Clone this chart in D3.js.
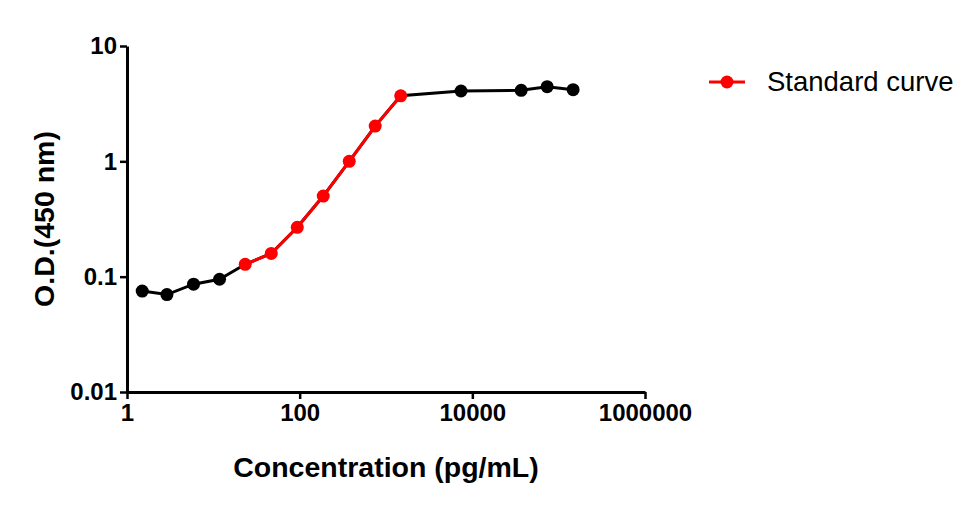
<!DOCTYPE html>
<html>
<head>
<meta charset="utf-8">
<script src="https://cdn.jsdelivr.net/npm/d3@7"></script>
<style>
  body { margin: 0; background: #fff; }
  text { font-family: "Liberation Sans", Arial, sans-serif; }
</style>
</head>
<body>
<div id="chart"></div>
<script>
// values
var concentrations = [1.5, 2.9, 5.9, 11.8, 23.4, 46.9, 93.8, 187.5, 375, 750, 1480, 7400, 36800, 73600, 147000];
var odValues = [0.075, 0.070, 0.086, 0.095, 0.128, 0.159, 0.268, 0.50, 1.0, 2.02, 3.7, 4.07, 4.13, 4.44, 4.18];
var redStart = 4, redEnd = 10; // indexes of the standard curve part
var xTickValues = [1, 100, 10000, 1000000];
var xTickLabels = ["1", "100", "10000", "1000000"];
var yTickValues = [0.01, 0.1, 1, 10];
var yTickLabels = ["0.01", "0.1", "1", "10"];
var legendLabel = "Standard curve";

var width = 980, height = 507;
var margin = { top: 46, right: 335, bottom: 115, left: 127 };

var data = concentrations.map(function(c, i) { return { x: c, y: odValues[i], i: i }; });

var svg = d3.select("#chart")
  .append("svg")
  .attr("width", width)
  .attr("height", height);

var x = d3.scaleLog()
  .domain([1, 1000000])
  .range([margin.left, width - margin.right]);

var y = d3.scaleLog()
  .domain([0.01, 10])
  .range([height - margin.bottom, margin.top]);

// minor ticks
var xMinor = [];
[10, 1000, 100000].forEach(function(b) {
  for (var m = 1; m < 10; m++) xMinor.push(b * m);
});
var yMinor = [];
[0.01, 0.1, 1].forEach(function(b) {
  for (var m = 2; m < 10; m++) yMinor.push(b * m);
});

var gx = svg.append("g")
  .attr("transform", "translate(0," + (height - margin.bottom) + ")");
gx.call(d3.axisBottom(x).tickValues(xMinor).tickSize(3).tickFormat("").tickSizeOuter(0));
gx.call(d3.axisBottom(x).tickValues(xTickValues).tickSize(7).tickSizeOuter(0)
  .tickFormat(function(d, i) { return xTickLabels[i]; }));

var gy = svg.append("g")
  .attr("transform", "translate(" + margin.left + ",0)");
gy.call(d3.axisLeft(y).tickValues(yMinor).tickSize(3).tickFormat("").tickSizeOuter(0));
gy.call(d3.axisLeft(y).tickValues(yTickValues).tickSize(7).tickSizeOuter(0)
  .tickFormat(function(d, i) { return yTickLabels[i]; }));

svg.selectAll(".domain").attr("stroke", "#000").attr("stroke-width", 3);
svg.selectAll(".tick line").attr("stroke", "#000").attr("stroke-width", 2.5);
gx.selectAll(".tick text")
  .attr("y", 12)
  .style("font-size", "24px").style("font-weight", "bold").attr("fill", "#000");
gy.selectAll(".tick text")
  .attr("x", -10)
  .style("font-size", "24px").style("font-weight", "bold").attr("fill", "#000");

var line = d3.line()
  .x(function(d) { return x(d.x); })
  .y(function(d) { return y(d.y); });

svg.append("path")
  .datum(data)
  .attr("fill", "none")
  .attr("stroke", "#000")
  .attr("stroke-width", 3)
  .attr("d", line);

svg.append("path")
  .datum(data.slice(redStart, redEnd + 1))
  .attr("fill", "none")
  .attr("stroke", "#f00")
  .attr("stroke-width", 3)
  .attr("d", line);

svg.append("g")
  .selectAll("circle")
  .data(data)
  .enter().append("circle")
  .attr("cx", function(d) { return x(d.x); })
  .attr("cy", function(d) { return y(d.y); })
  .attr("r", 6.5)
  .attr("fill", function(d) { return d.i >= redStart && d.i <= redEnd ? "#f00" : "#000"; });

// axis titles
svg.append("text")
  .attr("x", (x.range()[0] + x.range()[1]) / 2)
  .attr("y", 477)
  .style("text-anchor", "middle")
  .style("font-size", "28.5px")
  .style("font-weight", "bold")
  .text("Concentration (pg/mL)");

svg.append("text")
  .attr("transform", "translate(54," + ((y.range()[0] + y.range()[1]) / 2) + ") rotate(-90)")
  .style("text-anchor", "middle")
  .style("font-size", "28.5px")
  .style("font-weight", "bold")
  .text("O.D.(450 nm)");

// legend
var legend = svg.append("g").attr("transform", "translate(709,82)");
legend.append("line")
  .attr("x1", 0).attr("x2", 36)
  .attr("stroke", "#f00").attr("stroke-width", 3);
legend.append("circle")
  .attr("cx", 18).attr("r", 6.5).attr("fill", "#f00");
legend.append("text")
  .attr("x", 58)
  .attr("y", 9)
  .style("font-size", "27.5px")
  .text(legendLabel);
</script>
</body>
</html>
